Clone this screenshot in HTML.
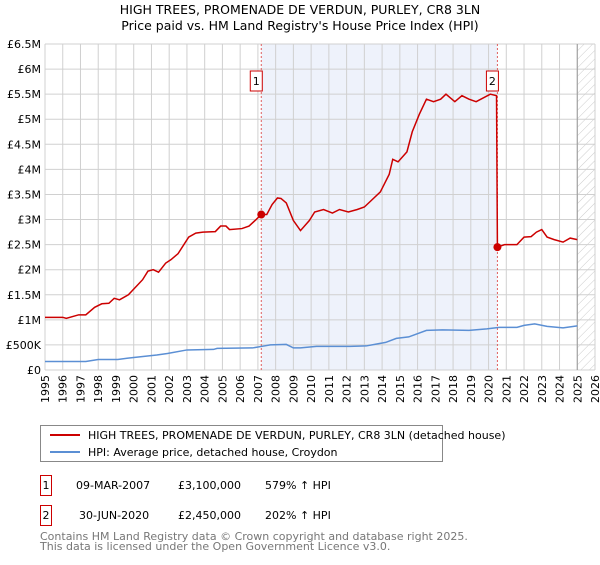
<!DOCTYPE html>
<html><head><meta charset="utf-8"><style>
body{margin:0;background:#fff;font-family:"Liberation Sans","DejaVu Sans",sans-serif;}
svg text{font-family:"DejaVu Sans","Liberation Sans",sans-serif;}
</style></head><body>
<svg id="chart" width="600" height="560" viewBox="0 0 600 560" xmlns="http://www.w3.org/2000/svg">
<text x="300" y="14" text-anchor="middle" font-size="12.5">HIGH TREES, PROMENADE DE VERDUN, PURLEY, CR8 3LN</text>
<text x="300" y="30" text-anchor="middle" font-size="12.5">Price paid vs. HM Land Registry's House Price Index (HPI)</text>
<g id="plot"></g>
<g>
<rect x="40.5" y="425.5" width="402" height="36" fill="#fff" stroke="#888"/>
<line x1="50" y1="435" x2="80" y2="435" stroke="#cc0000" stroke-width="2"/>
<text x="88" y="439" font-size="11">HIGH TREES, PROMENADE DE VERDUN, PURLEY, CR8 3LN (detached house)</text>
<line x1="50" y1="452" x2="80" y2="452" stroke="#5b8fd4" stroke-width="2"/>
<text x="88" y="456" font-size="11">HPI: Average price, detached house, Croydon</text>
</g>
<g font-size="11">
<rect x="40.5" y="475.5" width="11" height="20" fill="#fff" stroke="#cc0000"/>
<text x="46" y="489" text-anchor="middle">1</text>
<text x="76" y="489">09-MAR-2007</text><text x="178" y="489">£3,100,000</text><text x="265" y="489">579% ↑ HPI</text>
<rect x="40.5" y="505.5" width="11" height="20" fill="#fff" stroke="#cc0000"/>
<text x="46" y="519" text-anchor="middle">2</text>
<text x="79" y="519">30-JUN-2020</text><text x="178" y="519">£2,450,000</text><text x="265" y="519">202% ↑ HPI</text>
</g>
<text x="40" y="540" font-size="11" fill="#777">Contains HM Land Registry data © Crown copyright and database right 2025.</text>
<text x="40" y="550" font-size="11" fill="#777">This data is licensed under the Open Government Licence v3.0.</text>
</svg>
<script>
const yTickValues=[0,0.5,1,1.5,2,2.5,3,3.5,4,4.5,5,5.5,6,6.5];
const yTickLabels=["£0","£500K","£1M","£1.5M","£2M","£2.5M","£3M","£3.5M","£4M","£4.5M","£5M","£5.5M","£6M","£6.5M"];
const xYears=[1995,1996,1997,1998,1999,2000,2001,2002,2003,2004,2005,2006,2007,2008,2009,2010,2011,2012,2013,2014,2015,2016,2017,2018,2019,2020,2021,2022,2023,2024,2025,2026];
const saleDates=[2007.19,2020.5];
const saleValues=[3.1,2.45];
const saleLabels=["1","2"];
const propYears=[1995,1996,1996.2,1996.9,1997.3,1997.8,1998.2,1998.6,1998.9,1999.2,1999.7,2000.1,2000.5,2000.8,2001.1,2001.4,2001.8,2002.1,2002.5,2003.1,2003.5,2003.9,2004.6,2004.9,2005.2,2005.4,2006.1,2006.5,2006.9,2007.19,2007.5,2007.8,2008.1,2008.3,2008.6,2009,2009.4,2009.9,2010.2,2010.7,2011.2,2011.6,2012.1,2012.6,2013.0,2013.3,2013.9,2014.4,2014.6,2014.9,2015.4,2015.7,2016.1,2016.5,2016.9,2017.3,2017.6,2018.1,2018.5,2018.9,2019.3,2020.1,2020.45,2020.5,2020.9,2021.6,2022.0,2022.4,2022.7,2023.0,2023.3,2023.7,2024.2,2024.6,2025.0];
const propValues=[1.05,1.05,1.03,1.1,1.1,1.25,1.32,1.33,1.43,1.4,1.5,1.65,1.8,1.97,2.0,1.95,2.13,2.2,2.32,2.65,2.73,2.75,2.76,2.87,2.87,2.8,2.82,2.87,3.0,3.1,3.1,3.3,3.43,3.42,3.33,2.98,2.78,2.98,3.15,3.2,3.13,3.2,3.15,3.2,3.25,3.35,3.55,3.9,4.2,4.15,4.35,4.75,5.1,5.4,5.35,5.4,5.5,5.35,5.47,5.4,5.35,5.5,5.47,2.45,2.5,2.5,2.65,2.66,2.75,2.8,2.65,2.6,2.55,2.63,2.6];
const hpiYears=[1995,1997.3,1998,1999.1,2000,2001.3,2001.9,2003,2004.5,2004.7,2006.7,2007.2,2007.7,2008.6,2009,2009.4,2010.3,2012.2,2013.1,2014.2,2014.8,2015.5,2016.5,2017.4,2018.9,2019.9,2020.6,2021.6,2022.0,2022.6,2023.3,2024.2,2025.0];
const hpiValues=[0.17,0.17,0.21,0.21,0.25,0.3,0.33,0.4,0.41,0.43,0.44,0.47,0.5,0.51,0.44,0.44,0.47,0.47,0.48,0.55,0.63,0.66,0.79,0.8,0.79,0.82,0.85,0.85,0.89,0.92,0.87,0.84,0.88];

const NS="http://www.w3.org/2000/svg";
const L=45,R=595,T=44,B=370;
function xs(y){return L+(y-1995)*(R-L)/31;}
function ys(v){return B-v*(B-T)/6.5;}
const g=document.getElementById('plot');
function mk(tag,attrs){const e=document.createElementNS(NS,tag);for(const k in attrs)e.setAttribute(k,attrs[k]);g.appendChild(e);return e;}

let sh=mk('rect',{x:xs(saleDates[0]),y:T,width:xs(saleDates[1])-xs(saleDates[0]),height:B-T,fill:'#eef2fb'});


// hatch
const defs=document.createElementNS(NS,'defs');
defs.innerHTML='<pattern id="hatch" width="6" height="6" patternUnits="userSpaceOnUse" patternTransform="rotate(45)"><line x1="0" y1="0" x2="0" y2="6" stroke="#ccc" stroke-width="1"/></pattern>';
g.appendChild(defs);
let ht=mk('rect',{x:xs(2025),y:T,width:R-xs(2025),height:B-T,fill:'url(#hatch)'});



xYears.forEach(yr=>{
  let l=mk('line',{x1:xs(yr),x2:xs(yr),y1:T,y2:B,stroke:'#d0d0d0','stroke-width':1});
  
  
  let t=mk('text',{x:0,y:0,'font-size':11,'text-anchor':'end',transform:`translate(${xs(yr)+4},${B+5}) rotate(-90)`});
  t.textContent=yr;
  
  
});
yTickValues.forEach((v,i)=>{
  let l=mk('line',{x1:L,x2:R,y1:ys(v),y2:ys(v),stroke:'#d0d0d0','stroke-width':1});
  
  
  let t=mk('text',{x:L-4,y:ys(v)+4,'font-size':11,'text-anchor':'end'});
  t.textContent=yTickLabels[i];
  
  
});
let ed=mk('line',{x1:xs(2025),x2:xs(2025),y1:T,y2:B,stroke:'#999','stroke-width':1});



saleDates.forEach((d,i)=>{
  let l=mk('line',{x1:xs(d),x2:xs(d),y1:T,y2:B,stroke:'#e06060','stroke-width':1,'stroke-dasharray':'2,2'});
  
  
  let r=mk('rect',{x:xs(d)-11,y:71,width:12,height:20,fill:'#fff',stroke:'#cc0000'});
  
  
  let t=mk('text',{x:xs(d)-5,y:85,'font-size':11,'text-anchor':'middle'});
  t.textContent=saleLabels[i];
  
  
});

let hp=mk('polyline',{points:hpiYears.map((y,i)=>xs(y)+','+ys(hpiValues[i])).join(' '),fill:'none',stroke:'#5b8fd4','stroke-width':1.5});


let pp=mk('polyline',{points:propYears.map((y,i)=>xs(y)+','+ys(propValues[i])).join(' '),fill:'none',stroke:'#cc0000','stroke-width':1.5});


saleDates.forEach((d,i)=>{
  let c=mk('circle',{cx:xs(d),cy:ys(saleValues[i]),r:4,fill:'#cc0000'});
  
  
});
</script>
</body></html>
